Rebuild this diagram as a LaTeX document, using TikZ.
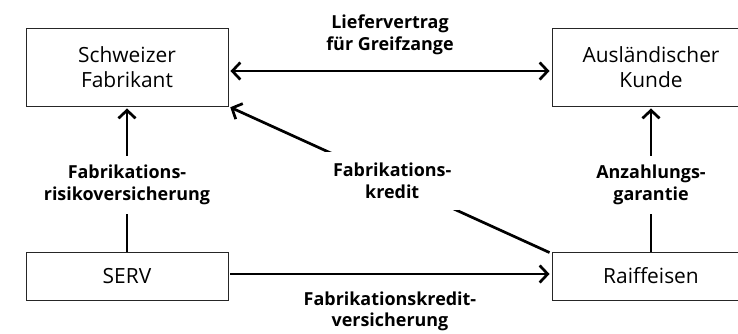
\documentclass[tikz,border=0pt]{standalone}
\usepackage{fontspec}
\setmainfont{Open Sans}
\usetikzlibrary{arrows.meta}
\begin{document}
\begin{tikzpicture}[x=1bp, y=-1bp,
  party/.style={draw=black!85, line width=0.9bp, rectangle, align=center, font=\fontsize{21}{24.5}\selectfont},
  flow/.style={line width=2.7bp, -{Straight Barb[length=8bp, width=17bp, line width=2.7bp]}},
  lbl/.style={align=center, font=\fontsize{18}{21.5}\selectfont\bfseries},
  gap/.style={lbl, fill=white, inner xsep=5bp, inner ysep=9bp}]
\clip (0,0) rectangle (738,333);
\node[party, minimum width=202bp, minimum height=78bp] (fabrikant) at (127,67) {Schweizer\\Fabrikant};
\node[party, minimum width=198bp, minimum height=78bp] (kunde) at (651,67) {Ausländischer\\Kunde};
\node[party, minimum width=202bp, minimum height=48bp] (serv) at (127,276) {SERV};
\node[party, minimum width=198bp, minimum height=48bp] (raiff) at (651,276) {Raiffeisen};
\draw[flow, {Straight Barb[length=8bp, width=17bp, line width=2.7bp]}-{Straight Barb[length=8bp, width=17bp, line width=2.7bp]}] ([yshift=-4bp, xshift=2bp]fabrikant.east) -- ([yshift=-4bp, xshift=-2bp]kunde.west) node[midway, above=12bp, lbl] {Liefervertrag\\für Greifzange};
\draw[flow] ([xshift=2bp, yshift=2bp]serv.east) -- ([xshift=-2bp, yshift=2bp]raiff.west) node[midway, below=13bp, lbl] {Fabrikationskredit-\\versicherung};
\draw[flow] (serv.north) -- ([yshift=-2bp]fabrikant.south) node[midway, gap, yshift=-5bp] {Fabrikations-\\risikoversicherung};
\draw[flow] (raiff.north) -- ([yshift=-2bp]kunde.south) node[midway, gap, yshift=-5bp] {Anzahlungs-\\garantie};
\draw[flow, shorten >=2bp] ([xshift=-2bp, yshift=-1bp]raiff.north west) -- (fabrikant.south east) node[pos=0.49, gap, inner xsep=8bp, inner ysep=11bp] {Fabrikations-\\kredit};
\end{tikzpicture}
\end{document}
